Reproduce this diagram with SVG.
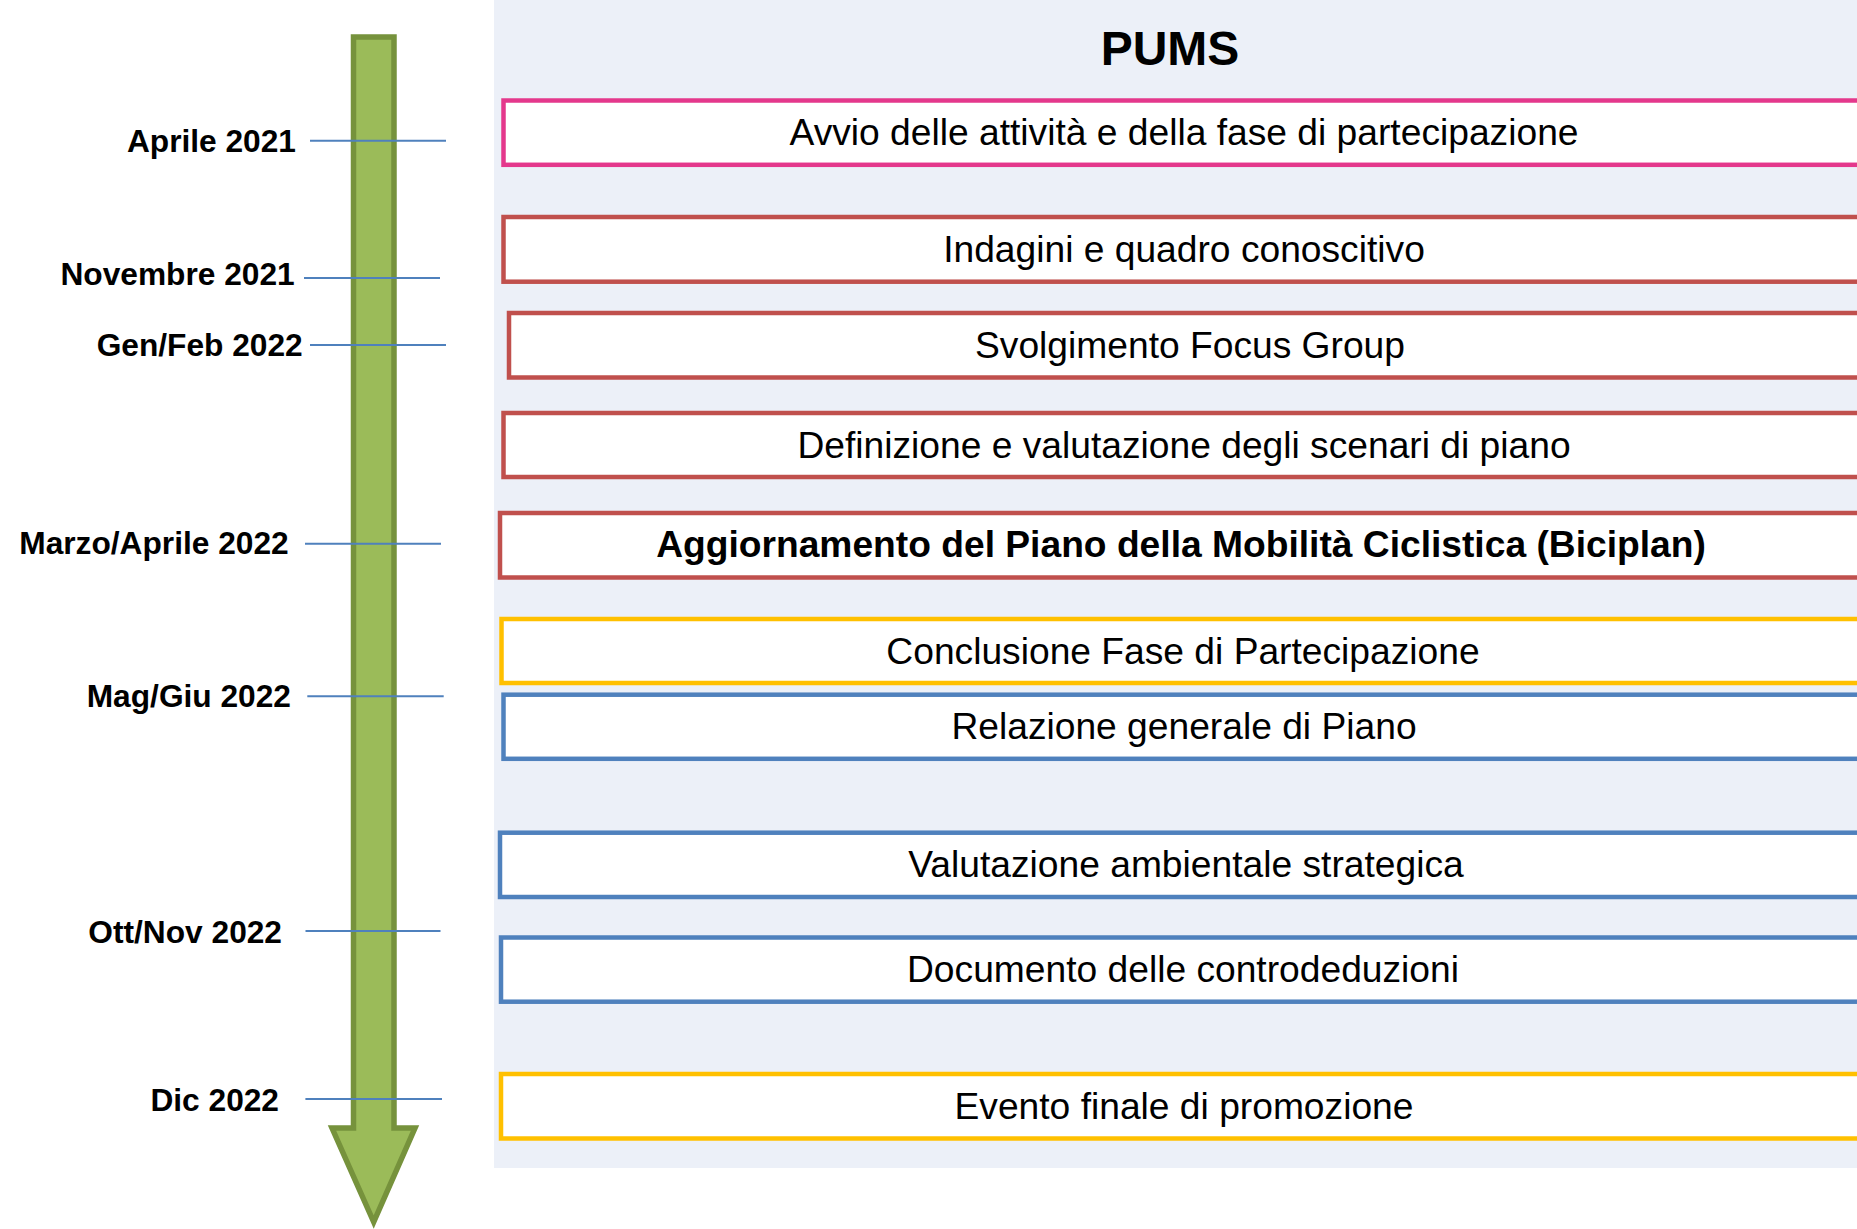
<svg xmlns="http://www.w3.org/2000/svg" width="1857" height="1229" viewBox="0 0 1857 1229">
<style>
.box{fill:#FFFFFF;stroke-width:4.5}
.pink{stroke:#E4388C}
.red{stroke:#C0504D}
.yel{stroke:#FFC000}
.blu{stroke:#4F81BD}
.bt{font-family:"Liberation Sans",Arial,sans-serif;font-size:37.2px;fill:#000;text-anchor:middle}
.lab{font-family:"Liberation Sans",Arial,sans-serif;font-size:31.7px;font-weight:bold;fill:#000;text-anchor:end}
.tick{stroke:#4F81BD;stroke-width:2}
</style>
<rect x="494" y="0" width="1363" height="1168" fill="#ECF0F8"/>
<text x="1170" y="65" font-family="Liberation Sans, Arial, sans-serif" font-size="48" font-weight="bold" text-anchor="middle">PUMS</text>
<g id="timeline-arrow">
<polygon points="353.5,37 394,37 394,1128 415,1128 373.7,1222 332,1128 353.5,1128" fill="#9BBB59" stroke="#76923C" stroke-width="5.5" stroke-linejoin="miter"/>
</g>
<g id="connectors">
<line class="tick" x1="310" y1="140.7" x2="446" y2="140.7"/>
<line class="tick" x1="304" y1="278" x2="440" y2="278"/>
<line class="tick" x1="310" y1="345" x2="446" y2="345"/>
<line class="tick" x1="305" y1="543.7" x2="441" y2="543.7"/>
<line class="tick" x1="307.3" y1="696.3" x2="443.7" y2="696.3"/>
<line class="tick" x1="305.5" y1="931" x2="440.5" y2="931"/>
<line class="tick" x1="305.4" y1="1099" x2="442" y2="1099"/>
</g>
<g id="date-labels">
<text class="lab" x="296" y="151.7">Aprile 2021</text>
<text class="lab" x="294.7" y="285">Novembre 2021</text>
<text class="lab" x="302.7" y="356">Gen/Feb 2022</text>
<text class="lab" x="288.7" y="554">Marzo/Aprile 2022</text>
<text class="lab" x="291" y="706.7">Mag/Giu 2022</text>
<text class="lab" x="282" y="943">Ott/Nov 2022</text>
<text class="lab" x="279" y="1111">Dic 2022</text>
</g>
<g id="n1"><rect class="box pink" x="503.5" y="100.5" width="1370" height="64.3"/><text class="bt" x="1184" y="145">Avvio delle attività e della fase di partecipazione</text></g>
<g id="n2"><rect class="box red" x="503.5" y="217" width="1370" height="64.7"/><text class="bt" x="1184" y="261.5">Indagini e quadro conoscitivo</text></g>
<g id="n3"><rect class="box red" x="509" y="313" width="1370" height="64.5"/><text class="bt" x="1190" y="357.5">Svolgimento Focus Group</text></g>
<g id="n4"><rect class="box red" x="503.5" y="413" width="1370" height="64"/><text class="bt" x="1184" y="457.5">Definizione e valutazione degli scenari di piano</text></g>
<g id="n5"><rect class="box red" x="500" y="513" width="1370" height="64.5"/><text class="bt" x="1181" y="557" font-weight="bold">Aggiornamento del Piano della Mobilità Ciclistica (Biciplan)</text></g>
<g id="n6"><rect class="box yel" x="501.5" y="619" width="1370" height="64"/><text class="bt" x="1183" y="663.5">Conclusione Fase di Partecipazione</text></g>
<g id="n7"><rect class="box blu" x="503.5" y="694.7" width="1370" height="64.1"/><text class="bt" x="1184" y="739">Relazione generale di Piano</text></g>
<g id="n8"><rect class="box blu" x="500" y="832.7" width="1370" height="64.3"/><text class="bt" x="1186" y="877">Valutazione ambientale strategica</text></g>
<g id="n9"><rect class="box blu" x="501" y="937.5" width="1370" height="64.2"/><text class="bt" x="1183" y="981.5">Documento delle controdeduzioni</text></g>
<g id="n10"><rect class="box yel" x="501" y="1074" width="1370" height="64.5"/><text class="bt" x="1184" y="1118.5">Evento finale di promozione</text></g>
</svg>
